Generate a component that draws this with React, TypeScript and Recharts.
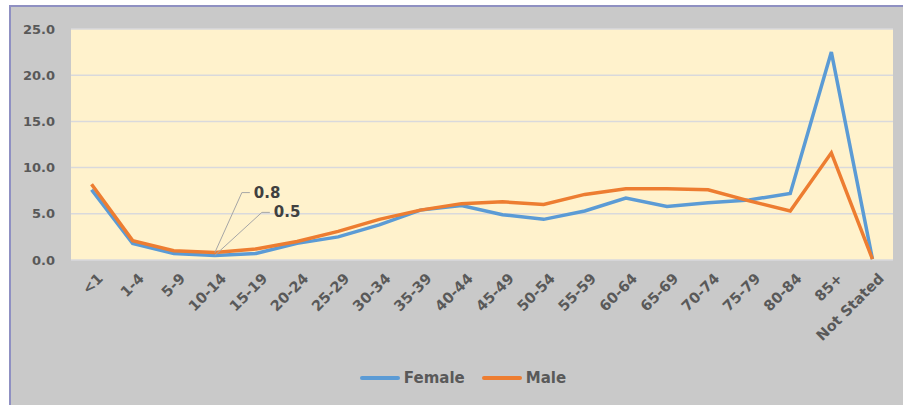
import { CartesianGrid, LabelList, Legend, Line, LineChart, XAxis, YAxis } from "recharts";

const ageGroups = ["<1", "1-4", "5-9", "10-14", "15-19", "20-24", "25-29", "30-34", "35-39", "40-44", "45-49", "50-54", "55-59", "60-64", "65-69", "70-74", "75-79", "80-84", "85+", "Not Stated"];
const female = [7.6, 1.8, 0.7, 0.5, 0.7, 1.8, 2.5, 3.8, 5.4, 5.9, 4.9, 4.4, 5.3, 6.7, 5.8, 6.2, 6.5, 7.2, 22.5, 0.1];
const male = [8.2, 2.1, 1.0, 0.8, 1.2, 2.0, 3.1, 4.4, 5.4, 6.1, 6.3, 6.0, 7.1, 7.7, 7.7, 7.6, 6.4, 5.3, 11.6, 0.1];
const yTicks = [0, 5, 10, 15, 20, 25];

const data = ageGroups.map((age, i) => ({ age, Female: female[i], Male: male[i] }));

const FONT = "'DejaVu Sans', sans-serif";
const BLUE = "#5b9bd5";
const ORANGE = "#ed7d31";

function AgeTick({ x, y, payload }: any) {
  const tx = x + 5;
  const ty = y + 4;
  return (
    <text
      x={tx}
      y={ty}
      transform={`rotate(-45, ${tx}, ${ty})`}
      textAnchor="end"
      dominantBaseline="hanging"
      fill="#595959"
      fontSize={14.5}
      fontWeight="bold"
      fontFamily={FONT}
    >
      {payload.value}
    </text>
  );
}

// leader-line callout, only on the 10-14 point
const callout = (dx: number, dy: number) => (props: any) => {
  const { x, y, value, index } = props;
  if (index !== 3) return null;
  const ex = x + dx;
  const ey = y + dy;
  return (
    <g>
      <polyline points={`${x},${y} ${ex},${ey} ${ex + 8},${ey}`} fill="none" stroke="#a6a6a6" strokeWidth={1} />
      <text x={ex + 12} y={ey} dominantBaseline="central" fill="#404040" fontSize={15} fontWeight="bold" fontFamily={FONT}>
        {Number(value).toFixed(1)}
      </text>
    </g>
  );
};

function LegendBox({ payload }: any) {
  return (
    <div style={{ display: "flex", justifyContent: "center", alignItems: "center", height: 30, paddingLeft: 50, fontFamily: FONT }}>
      {(payload || []).map((p: any) => (
        <div key={p.value} style={{ display: "flex", alignItems: "center", marginRight: 17 }}>
          <div style={{ width: 40, height: 4, borderRadius: 2, background: p.color, marginRight: 4 }} />
          <span style={{ color: "#595959", fontSize: 15, fontWeight: "bold" }}>{p.value}</span>
        </div>
      ))}
    </div>
  );
}

export default function App() {
  return (
    <div style={{ position: "absolute", left: 0, top: 0, width: 903, height: 405, background: "#fff", overflow: "hidden" }}>
      <div
        style={{
          position: "absolute",
          left: 9,
          top: 5,
          right: 0,
          bottom: 0,
          background: "#c9c9c9",
          borderLeft: "2px solid #8f90c2",
          borderTop: "2px solid #8f90c2",
        }}
      />
      <LineChart
        style={{ position: "absolute", left: 0, top: 0 }}
        width={903}
        height={405}
        data={data}
        margin={{ top: 29, right: 10, left: 0, bottom: 12 }}
      >
        <CartesianGrid vertical={false} fill="#fff2cc" stroke="#d9d9dc" strokeWidth={1.5} />
        <XAxis dataKey="age" scale="band" interval={0} axisLine={false} tickLine={false} tick={<AgeTick />} height={103} />
        <YAxis
          domain={[0, 25]}
          ticks={yTicks}
          width={71}
          axisLine={false}
          tickLine={false}
          tickMargin={10}
          tickFormatter={(v: number) => v.toFixed(1)}
          tick={{ fill: "#595959", fontSize: 13, fontWeight: "bold", fontFamily: FONT }}
        />
        <Legend verticalAlign="bottom" content={<LegendBox />} wrapperStyle={{ left: 0, width: 893 }} />
        <Line dataKey="Female" type="linear" stroke={BLUE} strokeWidth={3.5} dot={false} isAnimationActive={false}>
          <LabelList dataKey="Female" content={callout(47, -43)} />
        </Line>
        <Line dataKey="Male" type="linear" stroke={ORANGE} strokeWidth={3.5} dot={false} isAnimationActive={false}>
          <LabelList dataKey="Male" content={callout(27, -60)} />
        </Line>
      </LineChart>
    </div>
  );
}
